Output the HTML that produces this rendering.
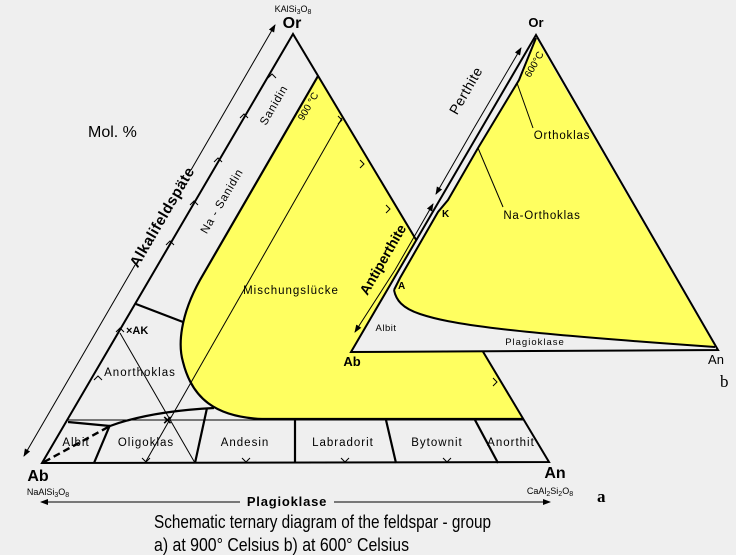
<!DOCTYPE html>
<html><head><meta charset="utf-8"><style>
html,body{margin:0;padding:0;background:#efefef;}
svg{display:block;}
text{font-family:"Liberation Sans",sans-serif;fill:#000;}
</style></head><body>
<svg width="736" height="555" viewBox="0 0 736 555" xmlns="http://www.w3.org/2000/svg">
<rect width="736" height="555" fill="#efefef"/>
<defs>
<marker id="ah" markerWidth="8" markerHeight="6" refX="7" refY="3" orient="auto"><path d="M0,0 L8,3 L0,6 z" fill="#000"/></marker>
</defs>
<!-- Big triangle a -->
<path d="M318,76 L200,280 C180,316 178,345 183,362 C192,398 215,417 262,419 L523,419 L489,363 Z" fill="#ffff60"/>
<path d="M318,76 L200,280 C180,316 178,345 183,362 C192,398 215,417 262,419 L523,419" fill="none" stroke="#000" stroke-width="2.2"/>
<polygon points="42,463 293,34 549,462" fill="none" stroke="#000" stroke-width="2"/>
<line x1="68" y1="420" x2="523" y2="420" stroke="#000" stroke-width="1"/>
<line x1="94" y1="463" x2="110" y2="425" stroke="#000" stroke-width="2.2"/>
<line x1="195" y1="463" x2="207" y2="408" stroke="#000" stroke-width="2.2"/>
<line x1="295" y1="463" x2="295" y2="420" stroke="#000" stroke-width="2.2"/>
<line x1="396" y1="463" x2="386" y2="420" stroke="#000" stroke-width="2.2"/>
<line x1="498" y1="463" x2="475" y2="420" stroke="#000" stroke-width="2.2"/>
<path d="M68,422 L110,426 C140,415 175,410 214,408" fill="none" stroke="#000" stroke-width="2.2"/>
<line x1="44" y1="462" x2="110" y2="426" stroke="#000" stroke-width="2.4" stroke-dasharray="7,4"/>
<line x1="136" y1="304" x2="183" y2="322" stroke="#000" stroke-width="2.2"/>
<line x1="342" y1="118" x2="145" y2="463" stroke="#000" stroke-width="1"/>
<line x1="120" y1="333" x2="195" y2="463" stroke="#000" stroke-width="1"/>
<text x="163" y="425" font-size="15" font-weight="bold">×</text>
<!-- chevrons -->
<g fill="none" stroke="#000" stroke-width="1">
<path d="M268,78 l4,-4 l4,4"/><path d="M240,118 l4,-4 l4,4"/><path d="M214,162 l4,-4 l4,4"/><path d="M190,205 l4,-4 l4,4"/>
<path d="M166,245 l4,-4 l4,4"/><path d="M116,332 l4,-4 l4,4"/><path d="M94,380 l4,-4 l4,4"/>
<path d="M338,116 l4,4 l-4,4"/><path d="M360,160 l4,4 l-4,4"/><path d="M386,205 l4,4 l-4,4"/><path d="M493,378 l4,4 l-4,4"/>
<path d="M142,458 l4,4 l4,-4"/><path d="M242,458 l4,4 l4,-4"/><path d="M341,458 l4,4 l4,-4"/><path d="M443,458 l4,4 l4,-4"/>
</g>
<!-- left arrow -->
<line x1="191" y1="170" x2="275" y2="25" stroke="#000" stroke-width="1" marker-end="url(#ah)"/>
<line x1="135" y1="265" x2="24" y2="456" stroke="#000" stroke-width="1" marker-end="url(#ah)"/>
<text transform="translate(162,217) rotate(-59.7)" dy="5" font-size="15" font-weight="bold" text-anchor="middle" letter-spacing="0.5">Alkalifeldspäte</text>
<text transform="translate(277,107) rotate(-59.7)" font-size="11.5" text-anchor="middle" letter-spacing="0.8">Sanidin</text>
<text transform="translate(225,203) rotate(-59.7)" font-size="11.5" text-anchor="middle" letter-spacing="0.8">Na - Sanidin</text>
<text transform="translate(311,108) rotate(-59.7)" font-size="10" text-anchor="middle">900 °C</text>
<text x="88" y="137" font-size="16">Mol. %</text>
<text x="293" y="12" font-size="9" text-anchor="middle">KAlSi<tspan font-size="7" dy="2">3</tspan><tspan dy="-2">O</tspan><tspan font-size="7" dy="2">8</tspan></text>
<text x="292" y="28" font-size="16" font-weight="bold" text-anchor="middle">Or</text>
<text x="291" y="294" font-size="11.5" text-anchor="middle" letter-spacing="1">Mischungslücke</text>
<text x="140" y="376" font-size="11.5" text-anchor="middle" letter-spacing="1">Anorthoklas</text>
<text x="126" y="334" font-size="11" font-weight="bold">×AK</text>
<g font-size="11.5" text-anchor="middle" letter-spacing="1">
<text x="76" y="446">Albit</text><text x="146" y="446">Oligoklas</text><text x="245" y="446">Andesin</text>
<text x="343" y="446">Labradorit</text><text x="437" y="446">Bytownit</text><text x="511" y="446">Anorthit</text>
</g>
<text x="38" y="481" font-size="16" font-weight="bold" text-anchor="middle">Ab</text>
<text x="48" y="495" font-size="9" text-anchor="middle">NaAlSi<tspan font-size="7" dy="2">3</tspan><tspan dy="-2">O</tspan><tspan font-size="7" dy="2">8</tspan></text>
<text x="555" y="478" font-size="16" font-weight="bold" text-anchor="middle">An</text>
<text x="550" y="494" font-size="9" text-anchor="middle">CaAl<tspan font-size="7" dy="2">2</tspan><tspan dy="-2">Si</tspan><tspan font-size="7" dy="2">2</tspan><tspan dy="-2">O</tspan><tspan font-size="7" dy="2">8</tspan></text>
<text x="597" y="502" font-size="17" font-weight="bold" style="font-family:'Liberation Serif',serif">a</text>
<line x1="240" y1="502" x2="41" y2="502" stroke="#000" stroke-width="1" marker-end="url(#ah)"/>
<line x1="334" y1="502" x2="550" y2="502" stroke="#000" stroke-width="1" marker-end="url(#ah)"/>
<text x="287" y="506" font-size="13" font-weight="bold" text-anchor="middle" letter-spacing="0.8">Plagioklase</text>
<text x="154" y="528" font-size="18" textLength="337" lengthAdjust="spacingAndGlyphs" style="font-family:'Liberation Sans Narrow','Liberation Sans',sans-serif">Schematic ternary diagram of the feldspar - group</text>
<text x="154" y="551" font-size="18" textLength="255" lengthAdjust="spacingAndGlyphs" style="font-family:'Liberation Sans Narrow','Liberation Sans',sans-serif">a) at 900° Celsius  b) at 600° Celsius</text>

<!-- Small triangle b -->
<polygon points="351,352 536,35 718,350" fill="#efefef"/>
<path d="M536,38 L519,80 L478,148 L448,200 L438,212 L400,278 L394,290 C396,300 402,308 420,314 C450,324 500,332 715,347 L536,38 Z" fill="#ffff60"/>
<path d="M536,38 L519,80 L478,148 L448,200 L438,212 L400,278 L394,290" fill="none" stroke="#000" stroke-width="2"/>
<path d="M394,290 C396,300 402,308 420,314 C450,324 500,332 715,347" fill="none" stroke="#000" stroke-width="2"/>
<polygon points="351,352 536,35 718,350" fill="none" stroke="#000" stroke-width="2"/>
<line x1="517" y1="83" x2="533" y2="128" stroke="#000" stroke-width="1"/>
<line x1="478" y1="148" x2="503" y2="207" stroke="#000" stroke-width="1"/>
<line x1="474" y1="128" x2="521" y2="48" stroke="#000" stroke-width="1" marker-end="url(#ah)"/>
<line x1="474" y1="128" x2="436" y2="194" stroke="#000" stroke-width="1" marker-end="url(#ah)"/>
<line x1="395" y1="270" x2="433" y2="204" stroke="#000" stroke-width="1" marker-end="url(#ah)"/>
<line x1="395" y1="270" x2="355" y2="332" stroke="#000" stroke-width="1" marker-end="url(#ah)"/>
<text transform="translate(470,93) rotate(-60)" font-size="14" text-anchor="middle" letter-spacing="0.5">Perthite</text>
<text transform="translate(387,262) rotate(-60)" font-size="14" font-weight="bold" text-anchor="middle">Antiperthite</text>
<text transform="translate(537,66) rotate(-60)" font-size="10" text-anchor="middle">600°C</text>
<text x="562" y="139" font-size="11.5" text-anchor="middle" letter-spacing="0.8">Orthoklas</text>
<text x="542" y="219" font-size="11.5" text-anchor="middle" letter-spacing="0.8">Na-Orthoklas</text>
<text x="386" y="331" font-size="9.5" text-anchor="middle" letter-spacing="0.5">Albit</text>
<text x="535" y="345" font-size="9.5" text-anchor="middle" letter-spacing="1">Plagioklase</text>
<text x="398" y="289" font-size="10" font-weight="bold">A</text>
<text x="442" y="217" font-size="10" font-weight="bold">K</text>
<text x="352" y="366" font-size="13" font-weight="bold" text-anchor="middle">Ab</text>
<text x="716" y="364" font-size="13" text-anchor="middle">An</text>
<text x="536" y="27" font-size="13" font-weight="bold" text-anchor="middle">Or</text>
<text x="720" y="387" font-size="17" style="font-family:'Liberation Serif',serif">b</text>
</svg>
</body></html>
